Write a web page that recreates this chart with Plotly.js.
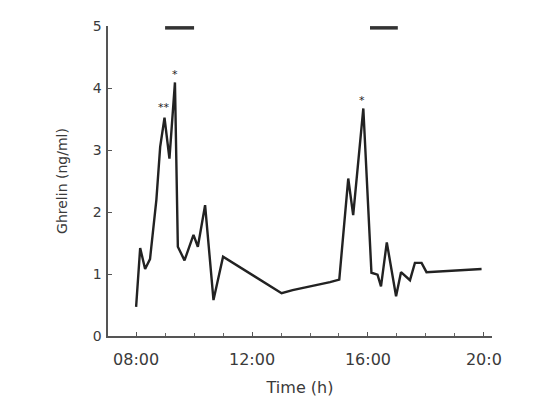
<!DOCTYPE html>
<html>
<head>
<meta charset="utf-8">
<script src="https://cdn.plot.ly/plotly-3.0.1.min.js"></script>
<style>html,body{margin:0;padding:0;background:#fff;}#chart{width:559px;height:402px;}</style>
</head>
<body>
<div id="chart"></div>
<script>
// Time in decimal hours, ghrelin in ng/ml
var timeHours = [8.0, 8.14, 8.31, 8.48, 8.7, 8.83, 8.98, 9.15, 9.34, 9.44, 9.67, 9.98, 10.13, 10.38, 10.67, 11.0, 13.02, 13.4, 14.69, 15.01, 15.32, 15.49, 15.84, 16.12, 16.33, 16.45, 16.65, 16.97, 17.14, 17.45, 17.62, 17.85, 18.02, 19.92];
var ghrelin   = [0.47, 1.42, 1.08, 1.24, 2.2, 3.05, 3.52, 2.86, 4.09, 1.44, 1.22, 1.63, 1.44, 2.11, 0.58, 1.28, 0.69, 0.74, 0.87, 0.91, 2.54, 1.95, 3.67, 1.02, 0.99, 0.80, 1.51, 0.64, 1.03, 0.90, 1.18, 1.18, 1.03, 1.08];

// Meal periods (horizontal bars at the top)
var mealStart = [9.0, 16.07];
var mealEnd   = [10.0, 17.03];
var mealLevel = [4.97, 4.97];

// Significance markers
var starTime  = [8.97, 9.34, 15.8];
var starLevel = [3.68, 4.22, 3.8];
var starText  = ['**', '*', '*'];

// Axis ticks
var xTickVals  = [8, 12, 16, 20];
var xTickText  = ['08:00', '12:00', '16:00', '20:0'];
var yTickVals  = [0, 1, 2, 3, 4, 5];

var ink = '#222';
var textColor = '#3a3a3a';
var fontFam = 'DejaVu Sans, Arial, sans-serif';

var traces = [{
  x: timeHours, y: ghrelin, type: 'scatter', mode: 'lines',
  line: {color: ink, width: 2.4}, hoverinfo: 'x+y', showlegend: false
}];
for (var i = 0; i < mealStart.length; i++) {
  traces.push({
    x: [mealStart[i], mealEnd[i]], y: [mealLevel[i], mealLevel[i]],
    type: 'scatter', mode: 'lines', line: {color: '#333', width: 3.5},
    showlegend: false, cliponaxis: false, hoverinfo: 'skip'
  });
}

var annotations = starTime.map(function (t, i) {
  return {x: t, y: starLevel[i], xref: 'x', yref: 'y', text: starText[i],
          showarrow: false, font: {family: fontFam, size: 11, color: '#222'}};
});

var layout = {
  width: 559, height: 402,
  margin: {l: 108, r: 67, t: 26, b: 66, pad: 0},
  paper_bgcolor: '#fff', plot_bgcolor: '#fff',
  font: {family: fontFam, color: textColor},
  showlegend: false,
  xaxis: {
    range: [7.03, 20.28], showgrid: false, zeroline: false,
    showline: true, linecolor: '#555', linewidth: 1.6,
    tickmode: 'array', tickvals: xTickVals, ticktext: xTickText,
    ticks: 'inside', ticklen: 4, tickwidth: 1, tickcolor: '#555',
    ticklabelstandoff: 8,
    minor: {dtick: 1, tick0: 0, ticks: 'inside', ticklen: 3, tickwidth: 1, tickcolor: '#666', showgrid: false},
    tickfont: {size: 16, color: textColor},
    title: {text: 'Time (h)', font: {size: 16, color: textColor}, standoff: 14}
  },
  yaxis: {
    range: [0, 5], showgrid: false, zeroline: false,
    showline: true, linecolor: '#555', linewidth: 1.6,
    tickmode: 'array', tickvals: yTickVals,
    ticks: 'inside', ticklen: 4, tickwidth: 1, tickcolor: '#555',
    ticklabelstandoff: 2,
    tickfont: {size: 14, color: textColor},
    title: {text: 'Ghrelin (ng/ml)', font: {size: 14, color: textColor}, standoff: 22}
  },
  annotations: annotations
};

Plotly.newPlot('chart', traces, layout, {displayModeBar: false, staticPlot: true});
</script>
</body>
</html>
